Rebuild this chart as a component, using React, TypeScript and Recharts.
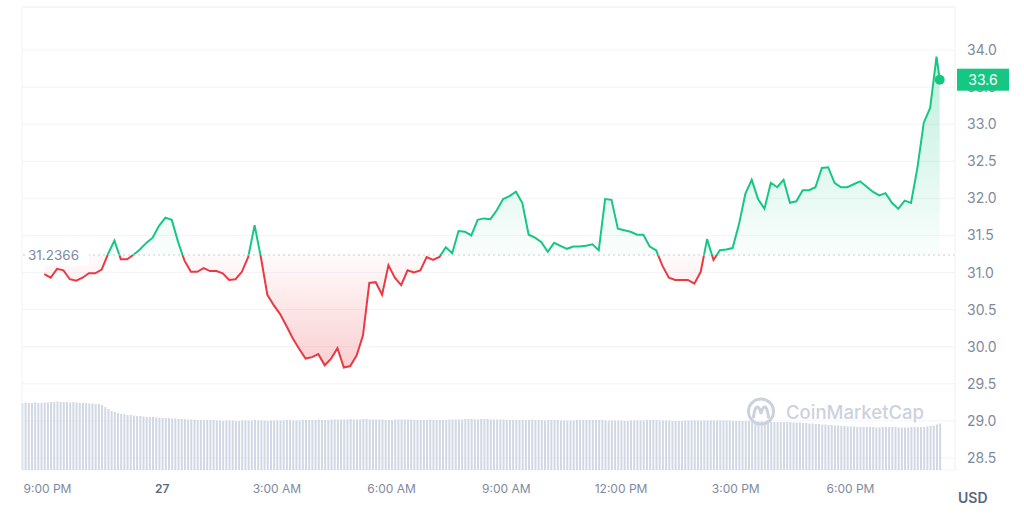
import React from 'react'
import {
  ComposedChart,
  Area,
  Bar,
  XAxis,
  YAxis,
  CartesianGrid,
  ReferenceLine,
  ReferenceDot,
} from 'recharts'

// minutes relative to midnight of the 27th, one volume bar every 5 minutes
const START_MIN = -220
const STEP_MIN = 5
const X_DOMAIN = [-220, 1244]
const Y_DOMAIN = [28.338, 34.58]

const X_TICKS = [-180, 0, 180, 360, 540, 720, 900, 1080]
const X_LABELS = ['9:00 PM', '27', '3:00 AM', '6:00 AM', '9:00 AM', '12:00 PM', '3:00 PM', '6:00 PM']
const Y_TICKS = [28.5, 29, 29.5, 30, 30.5, 31, 31.5, 32, 32.5, 33, 33.5, 34]

const PRICE_BASE = 31.2366

// price every 10 minutes from 8:55 PM, last value is the live price
const prices = [
  30.98, 30.93, 31.05, 31.03, 30.91, 30.89, 30.93, 30.99, 30.99, 31.04,
  31.25, 31.43, 31.18, 31.18, 31.24, 31.31, 31.4, 31.47, 31.63, 31.74,
  31.71, 31.41, 31.16, 31.01, 31.01, 31.06, 31.02, 31.02, 30.99, 30.9,
  30.91, 31.01, 31.21, 31.64, 31.2, 30.7, 30.56, 30.44, 30.28, 30.11,
  29.97, 29.84, 29.86, 29.9, 29.75, 29.84, 29.98, 29.72, 29.74, 29.88,
  30.15, 30.86, 30.87, 30.7, 31.1, 30.93, 30.83, 31.03, 31.0, 31.03,
  31.21, 31.17, 31.21, 31.34, 31.26, 31.56, 31.55, 31.5, 31.71, 31.73,
  31.72, 31.84, 31.99, 32.03, 32.09, 31.94, 31.51, 31.47, 31.41, 31.28,
  31.4, 31.36, 31.32, 31.35, 31.35, 31.36, 31.38, 31.3, 31.99, 31.98,
  31.59, 31.57, 31.55, 31.51, 31.51, 31.35, 31.3, 31.09, 30.93, 30.9,
  30.9, 30.9, 30.85, 31.01, 31.45, 31.17, 31.3, 31.31, 31.33, 31.65,
  32.06, 32.25, 31.99, 31.86, 32.21, 32.15, 32.25, 31.94, 31.96, 32.11,
  32.11, 32.15, 32.41, 32.42, 32.21, 32.15, 32.15, 32.19, 32.23, 32.16,
  32.09, 32.04, 32.07, 31.94, 31.86, 31.97, 31.94, 32.41, 33.02, 33.22,
  33.91, 33.6,
]

// relative volume per 5 minute bar
const volumes = [
  67, 67.5, 67, 67, 67.5, 67, 67, 67.5, 67.5,
  68, 68, 68.5, 68, 68, 68, 67.5, 68, 67.5,
  67, 67, 67, 66.5, 66.5, 66, 66,
  65, 63, 61, 59, 58, 57, 56, 56, 55, 55, 54.5, 54, 54, 53.5, 53, 53,
  53, 52.5, 52.5, 52, 52, 52, 51.5, 51.5, 51, 51, 51, 50.5, 50.5, 50.5, 50, 50, 50, 50, 50, 50,
  49.5, 49.5, 49, 49.5, 49.5, 49.5, 49, 49, 49.5, 49.5,
  49.5, 49.5, 50, 49.5, 49.5, 49.5, 49, 49.5, 49.5, 49.5,
  49.5, 49.5, 50, 50, 49.5, 49.5, 49.5, 50, 50, 50,
  50, 50, 50.5, 50, 50, 50, 50.5, 50.5, 50.5, 50.5,
  50.5, 50.5, 51, 50.5, 50.5, 50.5, 51, 51, 50.5, 50.5,
  50.5, 50.5, 50.5, 50, 50, 50, 50.5, 50.5, 50.5, 50.5,
  50.5, 50.5, 50, 50, 50, 50, 50, 50.5, 50, 50,
  50, 50, 50, 50.5, 50.5, 50.5, 50.5, 50.5, 51, 51,
  51, 50.5, 50.5, 51, 51, 51, 50.5, 50.5, 50.5, 50.5,
  50.5, 50, 50, 50, 50, 50, 50, 50, 50, 50.5,
  50, 50, 50, 49.5, 50, 50, 50, 50, 49.5, 49.5,
  49.5, 49.5, 49.5, 50, 50, 50, 50, 50, 50, 50,
  50, 50, 49.5, 49.5, 49.5, 49.5, 49.5, 49.5, 49, 49,
  49.5, 49.5, 49.5, 49.5, 49.5, 50, 50, 50, 50, 49.5,
  49.5, 49.5, 49.5, 49, 49, 49, 49, 49.5, 49.5, 49.5,
  49.5, 49.5, 49.5, 49.5, 49.5, 49.5, 49.5, 49.5, 49.5, 49.5,
  49.5, 49.5, 49, 49, 49, 49, 49, 49, 48.5, 48.5,
  48.5, 48.5, 48, 48, 48, 48, 48, 48, 48, 48, 48, 47.5, 47.5, 47.5, 47,
  47, 46.5, 46.5, 46, 46, 45.5, 45.5, 45, 45, 44.5, 44.5, 44, 44, 43.5, 43.5,
  43.5, 43, 43, 43, 43, 43, 43, 42.5, 42.5, 43, 43, 43, 43, 43, 42.5, 42.5,
  42.5, 42.5, 43, 43, 43, 43, 43, 43.5,
  44, 44.5, 45.5, 46.5,
]

const GREEN = '#16c784'
const RED = '#ea3943'
const MUTED = '#808a9d'

const rows = volumes.map((vol, i) => {
  let price: number | null = null
  if (i >= 7 && (i - 7) % 2 === 0 && (i - 7) / 2 < prices.length - 1) price = prices[(i - 7) / 2]
  if (i === volumes.length - 1) price = prices[prices.length - 1]
  return { t: START_MIN + i * STEP_MIN, vol, price }
})

const lastPrice = prices[prices.length - 1]
const lastTime = rows[rows.length - 1].t
const maxP = Math.max(...prices)
const minP = Math.min(...prices)
const splitOffset = (maxP - PRICE_BASE) / (maxP - minP)

const TimeTick = (props: any) => {
  const { x, y, payload } = props
  const idx = X_TICKS.indexOf(payload.value)
  const strong = payload.value === 0
  return (
    <text
      x={x}
      y={y}
      dy={15}
      textAnchor="middle"
      fontSize={12}
      fill={strong ? '#58667e' : MUTED}
      fontWeight={strong ? 600 : 400}
    >
      {X_LABELS[idx]}
    </text>
  )
}

const BaseLabel = (props: any) => {
  const vb = props.viewBox || {}
  return (
    <g>
      <rect x={vb.x + 3} y={vb.y - 11} width={64} height={22} fill="#fff" fillOpacity={0.85} />
      <text x={vb.x + 6} y={vb.y} dy={5} fontSize={13.5} fill={MUTED}>
        {PRICE_BASE}
      </text>
    </g>
  )
}

const PriceBadge = (props: any) => {
  const vb = props.viewBox || {}
  const left = vb.x + vb.width + 2
  return (
    <g>
      <rect x={left} y={vb.y - 11} width={52} height={22} fill={GREEN} />
      <text x={left + 26} y={vb.y} dy={5} textAnchor="middle" fontSize={14} fill="#fff">
        {lastPrice.toFixed(1)}
      </text>
    </g>
  )
}

const Watermark = () => (
  <svg width={190} height={34} style={{ position: 'absolute', left: 744, top: 396, pointerEvents: 'none' }}>
    <circle cx={17} cy={15.5} r={12.5} fill="none" stroke="#ccd2dd" strokeWidth={3} />
    <path d="M9.5 21 Q11 10 13.5 11 Q16 12 17 18 Q18 12 20.5 11 Q23 10 24.5 21" fill="none" stroke="#ccd2dd" strokeWidth={3} strokeLinecap="round" />
    <text x={42} y={23} fontSize={18.5} fontWeight={500} fill="#ccd2dd">
      CoinMarketCap
    </text>
  </svg>
)

const App: React.FC = () => {
  return (
    <div style={{ position: 'absolute', left: 0, top: 0, width: 1024, height: 525, background: '#fff', fontFamily: 'Inter, sans-serif' }}>
      <ComposedChart width={1024} height={525} data={rows} margin={{ top: 7, right: 0, bottom: 25, left: 22 }}>
        <defs>
          <linearGradient id="lineSplit" x1="0" y1="0" x2="0" y2="1">
            <stop offset={0} stopColor={GREEN} />
            <stop offset={splitOffset} stopColor={GREEN} />
            <stop offset={splitOffset} stopColor={RED} />
            <stop offset={1} stopColor={RED} />
          </linearGradient>
          <linearGradient id="fillSplit" x1="0" y1="0" x2="0" y2="1">
            <stop offset={0} stopColor={GREEN} stopOpacity={0.28} />
            <stop offset={splitOffset} stopColor={GREEN} stopOpacity={0.02} />
            <stop offset={splitOffset} stopColor={RED} stopOpacity={0.02} />
            <stop offset={1} stopColor={RED} stopOpacity={0.24} />
          </linearGradient>
        </defs>
        <CartesianGrid yAxisId="price" vertical={false} stroke="#f2f4f7" />
        <XAxis
          dataKey="t"
          type="number"
          domain={X_DOMAIN}
          ticks={X_TICKS}
          interval={0}
          axisLine={false}
          tickLine={false}
          tick={<TimeTick />}
          height={30}
        />
        <YAxis
          yAxisId="price"
          orientation="right"
          domain={Y_DOMAIN}
          ticks={Y_TICKS}
          allowDataOverflow
          width={69}
          axisLine={{ stroke: '#eceff3' }}
          tickLine={false}
          tickMargin={6}
          tick={{ fill: MUTED, fontSize: 14 }}
          tickFormatter={(v: number) => v.toFixed(1)}
        />
        <YAxis yAxisId="vol" hide domain={[0, 463]} />
        <Bar yAxisId="vol" dataKey="vol" fill="#d1d7e3" barSize={2} isAnimationActive={false} />
        <Area
          yAxisId="price"
          type="linear"
          dataKey="price"
          baseValue={PRICE_BASE}
          stroke="url(#lineSplit)"
          strokeWidth={2}
          fill="url(#fillSplit)"
          fillOpacity={1}
          connectNulls
          dot={false}
          activeDot={false}
          isAnimationActive={false}
        />
        <ReferenceLine yAxisId="price" y={Y_DOMAIN[1]} stroke="#f0f2f5" />
        <ReferenceLine yAxisId="price" x={X_DOMAIN[0]} stroke="#f0f2f5" />
        <ReferenceLine yAxisId="price" y={PRICE_BASE} stroke="#c4cad4" strokeDasharray="2 3" label={<BaseLabel />} />
        <ReferenceDot yAxisId="price" x={lastTime} y={lastPrice} r={5} fill={GREEN} stroke="none" zIndex={2600} />
        <ReferenceLine yAxisId="price" y={lastPrice} stroke="none" label={<PriceBadge />} zIndex={2600} />
      </ComposedChart>
      <Watermark />
      <div style={{ position: 'absolute', left: 958, top: 489, fontSize: 14, fontWeight: 600, color: '#58667e' }}>USD</div>
    </div>
  )
}

export default App
